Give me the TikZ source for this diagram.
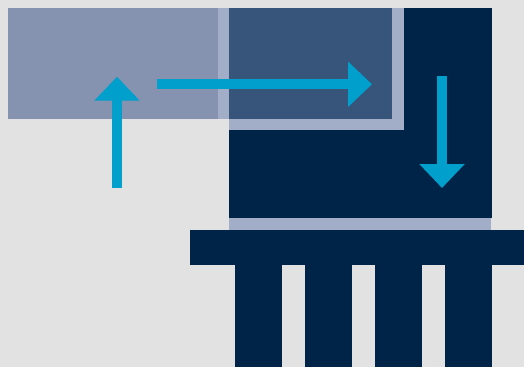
\documentclass[tikz,border=0pt]{standalone}
\usetikzlibrary{arrows.meta}

\definecolor{bggray}{HTML}{E2E2E2}
\definecolor{steel}{HTML}{8592B0}
\definecolor{pale}{HTML}{A2ADC8}
\definecolor{midblue}{HTML}{37557A}
\definecolor{navy}{HTML}{002448}
\definecolor{flowcyan}{HTML}{009FCC}

\begin{document}
\begin{tikzpicture}[
  x=1pt,
  y=-1pt,
  flow/.style={draw=flowcyan, line width=10pt,
    -{Triangle[width=44pt,length=24pt]}}
]
\fill[bggray] (0,0) rectangle (524,367);
\useasboundingbox (0,0) rectangle (524,367);
% upper blocks
\fill[steel] (8,8) rectangle (218,118.7);
\fill[pale] (218,8) rectangle (229,118.7);
\fill[navy] (229,8) rectangle (492,218);
\fill[pale] (229,8) rectangle (404,130);
\fill[midblue] (229,8) rectangle (392,118.7);
% base
\fill[pale] (229,218) rectangle (491,230);
\fill[navy] (190,230) rectangle (524,265);
\foreach \x in {235,305,375,445}
  \fill[navy] (\x,265) rectangle ++(47,102);
% arrows
\coordinate (uptail) at (117,188);
\coordinate (uptip) at (117,76.7);
\coordinate (righttail) at (157,84.3);
\coordinate (righttip) at (372,84.3);
\coordinate (downtail) at (442,76.3);
\coordinate (downtip) at (442,188);
\draw[flow] (uptail) -- (uptip);
\draw[flow] (righttail) -- (righttip);
\draw[flow] (downtail) -- (downtip);
\end{tikzpicture}
\end{document}
